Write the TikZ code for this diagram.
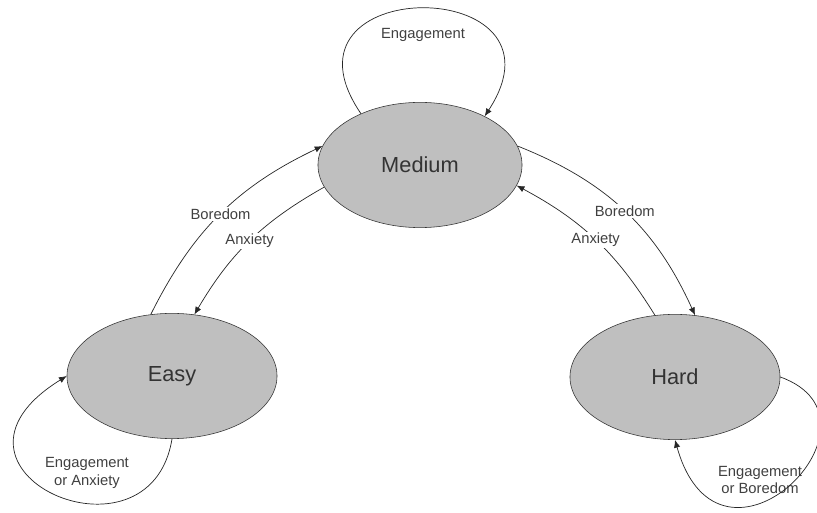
\documentclass[tikz,border=0pt]{standalone}
\usepackage{fontspec}
\setmainfont{Liberation Sans}
\usetikzlibrary{shapes.geometric,arrows.meta}

\begin{document}
\begin{tikzpicture}[
    x=0.025cm,y=0.025cm,
    state/.style={draw=black!80,ellipse,fill=black!25,inner sep=0pt,
        minimum width=5.25cm,minimum height=3.13cm,text=black!80,
        font=\fontsize{15.5}{18}\selectfont},
    lbl/.style={fill=white,inner sep=1pt,text=black!75,
        font=\fontsize{10.5}{12.6}\selectfont},
    looplbl/.style={inner sep=0pt,align=center,text=black!75,
        font=\fontsize{10.5}{12.6}\selectfont},
    flow/.style={->,>={Latex[length=5.5pt,width=4.5pt]},draw=black!85,line width=0.5pt}
]
    \clip (0,0) rectangle (817,513);

    \node[state,minimum width=5.1cm] (medium) at (420,348) {Medium};
    \node[state] (easy) at (172,137) {Easy};
    \node[state] (hard) at (675,136) {Hard};

    \node[looplbl] (stayMedium) at (423,478) {Engagement};
    \node[looplbl] (stayEasy) at (87,40) {Engagement\\or Anxiety};
    \node[looplbl] (stayHard) at (760,33) {Engagement\\or Boredom};

    % between the levels
    \draw[flow] (easy.109) to[bend left=19]
        node[lbl] (easyUp) {Boredom} (medium.169);
    \draw[flow] (medium.193) to[bend right=15]
        node[lbl] (mediumDown) {Anxiety} (easy.70);
    \draw[flow] (medium.11) to[bend left=22]
        node[lbl] (mediumUp) {Boredom} (hard.72);
    \draw[flow] (hard.108) to[bend right=15]
        node[lbl] (hardDown) {Anxiety} (medium.348);

    % staying on the same level
    \draw[flow] (medium.139) .. controls (265,540) and (578,540) .. (medium.37);
    \draw[flow] (easy.270) .. controls (150,-62) and (-85,43) .. (easy.180);
    \draw[flow] (hard.0) .. controls (900,93) and (720,-87) .. (hard.270);
\end{tikzpicture}
\end{document}
